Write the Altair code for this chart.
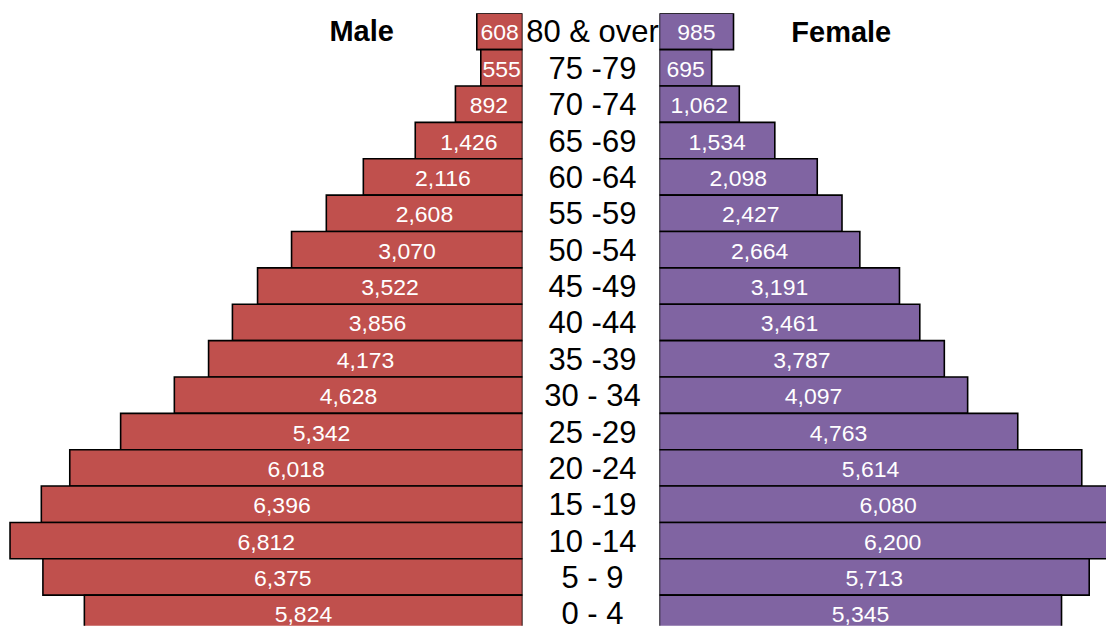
import altair as alt
import pandas as pd

ages = ["80 & over", "75 -79", "70 -74", "65 -69", "60 -64", "55 -59", "50 -54",
        "45 -49", "40 -44", "35 -39", "30 - 34", "25 -29", "20 -24", "15 -19",
        "10 -14", "5 - 9", "0 - 4"]
male = [608, 555, 892, 1426, 2116, 2608, 3070, 3522, 3856, 4173, 4628, 5342,
        6018, 6396, 6812, 6375, 5824]
female = [985, 695, 1062, 1534, 2098, 2427, 2664, 3191, 3461, 3787, 4097, 4763,
          5614, 6080, 6200, 5713, 5345]

df = pd.DataFrame({"age": ages, "male": male, "female": female,
                   "idx": list(range(len(ages)))})

FONT = "Liberation Sans"
H = 613
YDOM = [-0.5, 16.34]
LDOM = [0, 6839]
RDOM = [0, 5936]


def ysc():
    return alt.Scale(domain=YDOM, reverse=True, nice=False, zero=False)


base = alt.Chart(df).transform_calculate(
    lo="datum.idx - 0.5", hi="datum.idx + 0.5", z="0",
    mmid="datum.male / 2", fmid="datum.female / 2",
)

# Left (male)
male_bars = base.mark_bar(color="#C0504D", stroke="black", strokeWidth=1.6, clip=True).encode(
    x=alt.X("male:Q", axis=None, scale=alt.Scale(domain=LDOM, reverse=True, nice=False, zero=True)),
    x2="z:Q",
    y=alt.Y("lo:Q", axis=None, scale=ysc()),
    y2="hi:Q",
)
male_text = base.mark_text(color="white", font=FONT, fontSize=23, baseline="middle",
                           align="center", dy=2).encode(
    x=alt.X("mmid:Q", scale=alt.Scale(domain=LDOM, reverse=True, nice=False)),
    y=alt.Y("idx:Q", scale=ysc()),
    text=alt.Text("male:Q", format=","),
)
male_title = alt.Chart(pd.DataFrame({"t": ["Male"]})).mark_text(
    font=FONT, fontSize=29, fontWeight="bold", color="black", baseline="middle", align="center"
).encode(x=alt.value(354), y=alt.value(19), text="t:N")
left = alt.layer(male_bars, male_text, male_title).properties(width=515, height=H)

# Middle (age labels)
mid = base.mark_text(font=FONT, fontSize=31, color="black", baseline="middle",
                     align="center", dy=2).encode(
    x=alt.value(70),
    y=alt.Y("idx:Q", axis=None, scale=ysc()),
    text="age:N",
).properties(width=136, height=H)

# Right (female)
fem_bars = base.mark_bar(color="#8064A2", stroke="black", strokeWidth=1.6, clip=True).encode(
    x=alt.X("female:Q", axis=None, scale=alt.Scale(domain=RDOM, nice=False, zero=True)),
    x2="z:Q",
    y=alt.Y("lo:Q", axis=None, scale=ysc()),
    y2="hi:Q",
)
fem_text = base.mark_text(color="white", font=FONT, fontSize=23, baseline="middle",
                          align="center", dy=2, clip=True).encode(
    x=alt.X("fmid:Q", scale=alt.Scale(domain=RDOM, nice=False)),
    y=alt.Y("idx:Q", scale=ysc()),
    text=alt.Text("female:Q", format=","),
)
fem_title = alt.Chart(pd.DataFrame({"t": ["Female"]})).mark_text(
    font=FONT, fontSize=29, fontWeight="bold", color="black", baseline="middle", align="center"
).encode(x=alt.value(182), y=alt.value(20), text="t:N")
right = alt.layer(fem_bars, fem_text, fem_title).properties(width=447, height=H)

chart = alt.hconcat(left, mid, right, spacing=0).properties(
    padding={"left": 0, "top": 5, "right": 0, "bottom": 0}
).configure_view(stroke=None).configure_concat(spacing=0)

chart.save("out.html", embed_options={"renderer": "svg", "actions": False})
